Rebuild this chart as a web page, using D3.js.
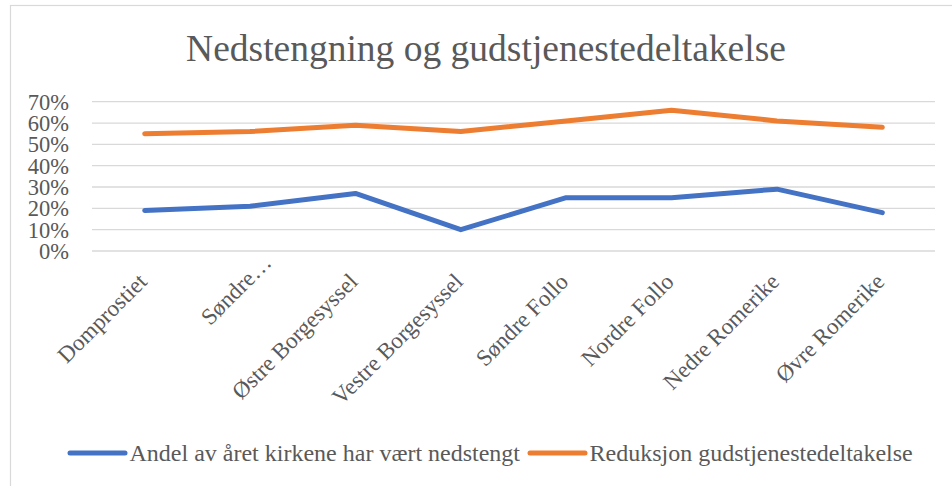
<!DOCTYPE html>
<html>
<head>
<meta charset="utf-8">
<script src="https://cdn.jsdelivr.net/npm/d3@7"></script>
<style>
  body { margin: 0; background: #fff; }
  text { font-family: "Liberation Serif", "Times New Roman", serif; fill: #595959; }
  .grid { stroke: #d9d9d9; stroke-width: 1.3; }
  .serie { fill: none; stroke-width: 5; stroke-linecap: round; stroke-linejoin: round; }
</style>
</head>
<body>
<svg id="chart" width="952" height="486"></svg>
<script>
var categories = ["Domprostiet", "Søndre…", "Østre Borgesyssel", "Vestre Borgesyssel",
                  "Søndre Follo", "Nordre Follo", "Nedre Romerike", "Øvre Romerike"];

// andel av året stengt
var nedstengt = [0.19, 0.21, 0.27, 0.10, 0.25, 0.25, 0.29, 0.18];
// reduksjon i oppmøte
var reduksjon = [0.55, 0.56, 0.59, 0.56, 0.61, 0.66, 0.61, 0.58];

var yTicks = [0, 0.1, 0.2, 0.3, 0.4, 0.5, 0.6, 0.7];

var series = [
  {name: "Andel av året kirkene har vært nedstengt", values: nedstengt, color: "#4472C4"},
  {name: "Reduksjon gudstjenestedeltakelse", values: reduksjon, color: "#ED7D31"}
];

var svg = d3.select("#chart"),
    width = +svg.attr("width"),
    height = +svg.attr("height");

var plot = {left: 92, right: 935, top: 101.7, bottom: 251};

// chart border (right/bottom edges fall outside the picture)
svg.append("rect")
  .attr("x", 10.5)
  .attr("y", 5.5)
  .attr("width", 960)
  .attr("height", 500)
  .attr("fill", "white")
  .attr("stroke", "#d9d9d9")
  .attr("stroke-width", 1.2);

svg.append("text")
  .attr("x", 486)
  .attr("y", 61)
  .attr("text-anchor", "middle")
  .attr("font-size", "37.5px")
  .text("Nedstengning og gudstjenestedeltakelse");

var x = d3.scaleBand()
  .domain(categories)
  .range([plot.left, plot.right]);

var y = d3.scaleLinear()
  .domain([0, 0.7])
  .range([plot.bottom, plot.top]);

var fmt = d3.format(".0%");

// gridlines
svg.selectAll(".grid")
    .data(yTicks)
  .enter().append("line")
    .attr("class", "grid")
    .attr("x1", plot.left)
    .attr("x2", plot.right)
    .attr("y1", function(d) { return y(d); })
    .attr("y2", function(d) { return y(d); });

svg.selectAll(".ytick")
    .data(yTicks)
  .enter().append("text")
    .attr("class", "ytick")
    .attr("x", 69)
    .attr("y", function(d) { return y(d); })
    .attr("dy", "0.35em")
    .attr("text-anchor", "end")
    .attr("font-size", "22.5px")
    .text(function(d) { return fmt(d); });

// category labels, rotated -45
svg.selectAll(".xtick")
    .data(categories)
  .enter().append("text")
    .attr("class", "xtick")
    .attr("transform", function(d) {
      return "translate(" + (x(d) + x.bandwidth() / 2 + 3.5) + ",283) rotate(-45)";
    })
    .attr("dx", function(d) { return d.slice(-1) == "…" ? 27 : 0; })
    .attr("text-anchor", "end")
    .attr("font-size", "23px")
    .text(function(d) { return d; });

var line = d3.line()
  .x(function(d, i) { return x(categories[i]) + x.bandwidth() / 2; })
  .y(function(d) { return y(d); });

svg.selectAll(".serie")
    .data(series)
  .enter().append("path")
    .attr("class", "serie")
    .attr("stroke", function(d) { return d.color; })
    .attr("d", function(d) { return line(d.values); });

// legend
var legendX = [70, 530];
var legend = svg.selectAll(".legend")
    .data(series)
  .enter().append("g")
    .attr("class", "legend")
    .attr("transform", function(d, i) { return "translate(" + legendX[i] + ",453)"; });

legend.append("line")
  .attr("class", "serie")
  .attr("stroke", function(d) { return d.color; })
  .attr("x1", 0)
  .attr("x2", 55)
  .attr("y1", 0)
  .attr("y2", 0);

legend.append("text")
  .attr("x", 59.5)
  .attr("y", 7.5)
  .attr("font-size", "24px")
  .text(function(d) { return d.name; });
</script>
</body>
</html>
